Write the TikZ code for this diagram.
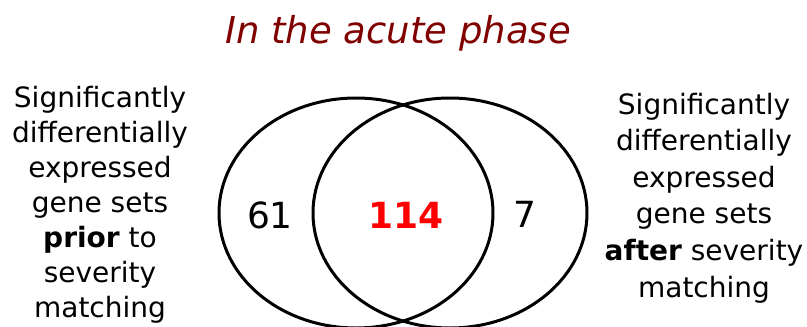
\documentclass[tikz,border=0pt]{standalone}
\usepackage{fontspec}
\setmainfont{DejaVu Sans}
\usetikzlibrary{shapes.geometric}
\definecolor{titlered}{RGB}{128,0,0}
\definecolor{numred}{RGB}{255,0,0}
\tikzset{
  venn/.style={ellipse, draw=black, line width=3pt, minimum width=274pt, minimum height=230pt, inner sep=0pt},
  sideline/.style={anchor=base, inner sep=0pt, font=\fontsize{28}{33}\selectfont},
  count/.style={inner sep=0pt, font=\fontsize{36}{40}\selectfont}
}
\begin{document}
\begin{tikzpicture}[x=1pt,y=-1pt]
\useasboundingbox (0,0) rectangle (807,327);
\node[inner sep=0pt, text=titlered, font=\fontsize{37}{42}\itshape] (title) at (398,33) {In the acute phase};
\node[venn] (left) at (356,213) {};
\node[venn] (right) at (450,213) {};
\node[count] (n61) at (270,215) {61};
\node[count, text=numred, font=\fontsize{36}{40}\bfseries] (n114) at (406,215) {114};
\node[count] (n7) at (525,214) {7};
\foreach \t [count=\i from 0] in {Significantly, differentially, expressed, gene sets, \textbf{prior} to, severity, matching}
  \node[sideline] (l\i) at (100,107+35*\i) {\t};
\foreach \t [count=\i from 0] in {Significantly, differentially, expressed, gene sets, \textbf{after} severity, matching}
  \node[sideline] (r\i) at (704,114+36.6*\i) {\t};
\end{tikzpicture}
\end{document}
